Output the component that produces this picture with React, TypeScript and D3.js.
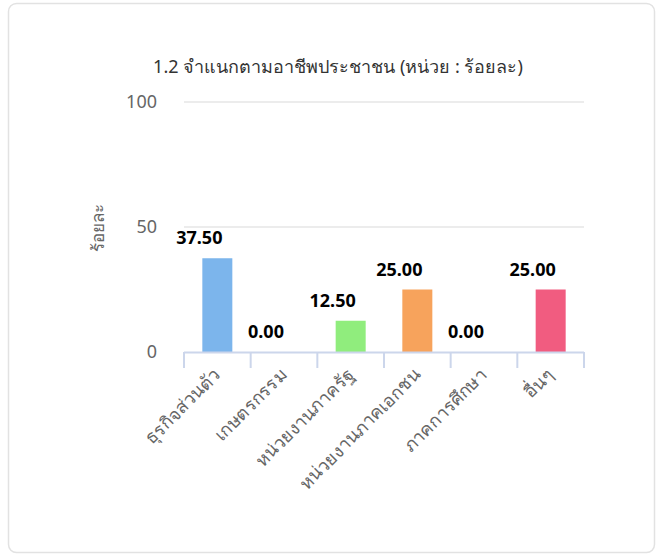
import React from 'react';
import * as d3 from 'd3';

const categories = ['ธุรกิจส่วนตัว', 'เกษตรกรรม', 'หน่วยงานภาครัฐ', 'หน่วยงานภาคเอกชน', 'ภาคการศึกษา', 'อื่นๆ'];
const values = [37.5, 0, 12.5, 25, 0, 25];
const colors = ['#7cb5ec', '#434348', '#90ed7d', '#f7a35c', '#8085e9', '#f15c80'];
const yTicks = [0, 50, 100];

const W = 658;
const H = 554;
const FONT = "'Noto Sans', 'DejaVu Sans', sans-serif";

const App = () => {
  const x = d3.scaleBand<string>().domain(categories).range([184, 584]);
  const y = d3.scaleLinear().domain([0, 100]).range([352, 102]);
  const barW = 30;

  return (
    <svg width={W} height={H} style={{ position: 'absolute', left: 0, top: 0 }} fontFamily={FONT}>
      <rect x={8.5} y={3.5} width={646} height={549} rx={8} fill="#fff" stroke="#e2e2e2" strokeWidth={1.5} />
      <text x={338} y={73} textAnchor="middle" fontSize={18} fill="#333">
        1.2 จำแนกตามอาชีพประชาชน (หน่วย : ร้อยละ)
      </text>

      {/* grid */}
      {yTicks.filter(t => t > 0).map(t => (
        <line key={t} x1={184} x2={584} y1={y(t)} y2={y(t)} stroke="#e6e6e6" strokeWidth={1.5} />
      ))}
      {yTicks.map(t => (
        <text key={t} x={157} y={y(t) + 6} textAnchor="end" fontSize={18} fill="#666">
          {t}
        </text>
      ))}
      <text transform={`translate(104,${228}) rotate(-90)`} textAnchor="middle" fontSize={17} fill="#666">
        ร้อยละ
      </text>

      {/* bars */}
      {values.map((v, i) => {
        const cx = (x(categories[i]) as number) + x.bandwidth() / 2;
        return (
          <rect key={i} x={cx - barW / 2} y={y(v)} width={barW} height={y(0) - y(v)} fill={colors[i]} />
        );
      })}

      {/* axis */}
      <line x1={184} x2={584} y1={352.5} y2={352.5} stroke="#ccd6eb" strokeWidth={2} />
      {categories.concat(['']).map((c, i) => {
        const tx = 184 + i * x.bandwidth();
        return <line key={i} x1={tx} x2={tx} y1={352} y2={368} stroke="#ccd6eb" strokeWidth={2} />;
      })}
      {categories.map((c, i) => {
        const cx = (x(c) as number) + x.bandwidth() / 2;
        return (
          <text key={c} transform={`translate(${cx + 4},${376}) rotate(-45)`} textAnchor="end" fontSize={18} fill="#666">
            {c}
          </text>
        );
      })}

      {/* data labels */}
      {values.map((v, i) => {
        const cx = (x(categories[i]) as number) + x.bandwidth() / 2;
        return (
          <text key={i} x={cx - 18} y={y(v) - 14} textAnchor="middle" fontSize={18} fontWeight="bold" fill="#000"
            stroke="#fff" strokeWidth={3} paintOrder="stroke" strokeLinejoin="round">
            {v.toFixed(2)}
          </text>
        );
      })}
    </svg>
  );
};

export default App;
